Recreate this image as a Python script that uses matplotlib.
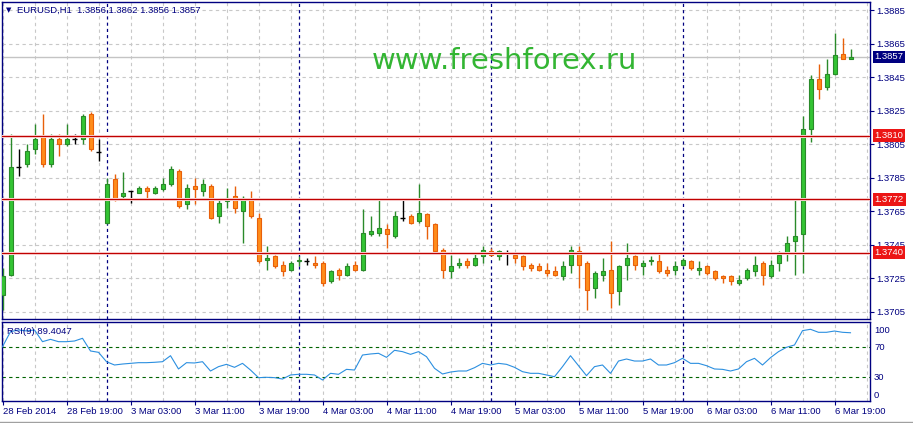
import matplotlib
matplotlib.use('Agg')
import matplotlib.pyplot as plt
from matplotlib.patches import Rectangle
from matplotlib.lines import Line2D

plt.rcParams['font.family'] = ['Liberation Sans', 'DejaVu Sans']

# ---------------- data ----------------
opens = [1.3715, 1.3727, 1.3791, 1.3793, 1.3802, 1.3810, 1.3793, 1.3808, 1.3805, 1.3808,
         1.3808, 1.3823, 1.3800, 1.3758, 1.3784, 1.3774, 1.3777, 1.3776, 1.3779, 1.3776,
         1.3778, 1.3781, 1.3789, 1.3769, 1.3780, 1.3777, 1.3780, 1.3762, 1.3771, 1.3774,
         1.3765, 1.3772, 1.3761, 1.3736, 1.3738, 1.3733, 1.3730, 1.3735, 1.3735, 1.3734,
         1.3734, 1.3723, 1.3730, 1.3727, 1.3733, 1.3730, 1.3751, 1.3752, 1.3754, 1.3750,
         1.3761, 1.3762, 1.3759, 1.3763, 1.3757, 1.3742, 1.3729, 1.3733, 1.3735, 1.3733,
         1.3738, 1.3741, 1.3738, 1.3740, 1.3739, 1.3738, 1.3733, 1.3732, 1.3730, 1.3729,
         1.3726, 1.3733, 1.3741, 1.3734, 1.3719, 1.3727, 1.3730, 1.3717, 1.3733, 1.3738,
         1.3732, 1.3735, 1.3735, 1.3730, 1.3730, 1.3733, 1.3735, 1.3730, 1.3732, 1.3729,
         1.3726, 1.3726, 1.3722, 1.3725, 1.3729, 1.3734, 1.3726, 1.3734, 1.3740, 1.3747,
         1.3751, 1.3814, 1.3844, 1.3839, 1.3847, 1.3859, 1.3856]
highs = [1.3731, 1.3811, 1.3802, 1.3805, 1.3817, 1.3823, 1.3811, 1.3811, 1.3817, 1.3811,
         1.3823, 1.3824, 1.3808, 1.3785, 1.3787, 1.3788, 1.3777, 1.3780, 1.3780, 1.3780,
         1.3785, 1.3792, 1.3790, 1.3781, 1.3785, 1.3784, 1.3781, 1.3772, 1.3779, 1.3780,
         1.3774, 1.3777, 1.3764, 1.3744, 1.3739, 1.3735, 1.3735, 1.3738, 1.3737, 1.3738,
         1.3735, 1.3730, 1.3731, 1.3734, 1.3735, 1.3766, 1.3762, 1.3773, 1.3757, 1.3765,
         1.3772, 1.3763, 1.3781, 1.3764, 1.3758, 1.3743, 1.3739, 1.3737, 1.3737, 1.3740,
         1.3744, 1.3743, 1.3742, 1.3742, 1.3740, 1.3739, 1.3734, 1.3734, 1.3734, 1.3732,
         1.3735, 1.3744, 1.3744, 1.3735, 1.3729, 1.3737, 1.3747, 1.3733, 1.3746, 1.3739,
         1.3736, 1.3738, 1.3740, 1.3732, 1.3735, 1.3737, 1.3736, 1.3735, 1.3733, 1.3730,
         1.3727, 1.3727, 1.3727, 1.3731, 1.3738, 1.3735, 1.3736, 1.3741, 1.3750, 1.3773,
         1.3822, 1.3846, 1.3853, 1.3856, 1.3871, 1.3868, 1.3862]
lows = [1.3706, 1.3726, 1.3786, 1.3791, 1.3799, 1.3791, 1.3791, 1.3798, 1.3804, 1.3805,
        1.3805, 1.3801, 1.3795, 1.3757, 1.3771, 1.3772, 1.3770, 1.3776, 1.3772, 1.3775,
        1.3777, 1.3780, 1.3767, 1.3766, 1.3769, 1.3774, 1.3760, 1.3758, 1.3767, 1.3764,
        1.3746, 1.3761, 1.3734, 1.3730, 1.3731, 1.3726, 1.3729, 1.3732, 1.3733, 1.3731,
        1.3720, 1.3722, 1.3724, 1.3726, 1.3729, 1.3729, 1.3750, 1.3750, 1.3743, 1.3749,
        1.3759, 1.3757, 1.3758, 1.3748, 1.3740, 1.3725, 1.3725, 1.3731, 1.3731, 1.3732,
        1.3734, 1.3738, 1.3736, 1.3733, 1.3734, 1.3730, 1.3729, 1.3729, 1.3726, 1.3726,
        1.3724, 1.3728, 1.3719, 1.3706, 1.3713, 1.3723, 1.3707, 1.3709, 1.3724, 1.3730,
        1.3727, 1.3733, 1.3728, 1.3726, 1.3727, 1.3732, 1.3730, 1.3727, 1.3727, 1.3724,
        1.3722, 1.3721, 1.3721, 1.3724, 1.3726, 1.3721, 1.3725, 1.3729, 1.3735, 1.3727,
        1.3728, 1.3806, 1.3832, 1.3837, 1.3846, 1.3856, 1.3856]
closes = [1.3726, 1.3791, 1.3791, 1.3801, 1.3808, 1.3793, 1.3808, 1.3805, 1.3808, 1.3808,
          1.3822, 1.3802, 1.3800, 1.3781, 1.3772, 1.3776, 1.3777, 1.3779, 1.3777, 1.3779,
          1.3781, 1.3790, 1.3768, 1.3779, 1.3778, 1.3781, 1.3761, 1.3770, 1.3773, 1.3767,
          1.3773, 1.3762, 1.3735, 1.3737, 1.3732, 1.3729, 1.3734, 1.3736, 1.3735, 1.3733,
          1.3722, 1.3729, 1.3727, 1.3732, 1.3730, 1.3752, 1.3753, 1.3755, 1.3751, 1.3762,
          1.3761, 1.3758, 1.3764, 1.3756, 1.3741, 1.3730, 1.3732, 1.3734, 1.3733, 1.3737,
          1.3742, 1.3739, 1.3741, 1.3740, 1.3737, 1.3732, 1.3731, 1.3730, 1.3728, 1.3727,
          1.3732, 1.3742, 1.3733, 1.3718, 1.3728, 1.3729, 1.3716, 1.3732, 1.3737, 1.3733,
          1.3734, 1.3736, 1.3729, 1.3728, 1.3732, 1.3736, 1.3731, 1.3731, 1.3728, 1.3725,
          1.3725, 1.3723, 1.3724, 1.3730, 1.3733, 1.3727, 1.3733, 1.3739, 1.3746, 1.3750,
          1.3814, 1.3844, 1.3838, 1.3847, 1.3858, 1.3856, 1.3857]
rsi = [70.8, 90.8, 93.1, 91.8, 93.1, 77.5, 80.6, 77.5, 77.5, 78.4,
       82.0, 65.1, 63.3, 50.8, 46.4, 47.7, 48.6, 49.5, 49.5, 50.0,
       50.8, 58.8, 41.1, 49.5, 49.1, 50.8, 38.4, 44.2, 47.3, 43.3,
       48.6, 39.7, 29.5, 30.0, 29.5, 27.7, 33.1, 34.0, 34.0, 33.1,
       26.4, 35.3, 34.0, 40.6, 39.7, 59.7, 61.1, 62.0, 56.6, 66.0,
       64.2, 60.6, 64.2, 57.5, 42.0, 34.4, 37.0, 38.4, 38.4, 42.8,
       48.6, 46.4, 48.6, 47.3, 43.3, 37.5, 35.3, 35.3, 33.1, 30.8,
       44.2, 58.8, 45.5, 32.2, 44.2, 46.4, 35.3, 51.7, 54.4, 51.7,
       51.7, 54.4, 46.4, 46.4, 49.5, 55.3, 48.6, 48.6, 45.5, 41.1,
       40.6, 38.4, 41.1, 50.8, 55.3, 46.4, 56.2, 64.2, 70.0, 73.1,
       92.2, 94.0, 90.0, 90.0, 91.7, 90.0, 89.4]

price_ticks = [1.3885, 1.3865, 1.3845, 1.3825, 1.3805, 1.3785, 1.3765, 1.3745, 1.3725, 1.3705]
price_tick_labels = ['1.3885', '1.3865', '1.3845', '1.3825', '1.3805', '1.3785', '1.3765',
                     '1.3745', '1.3725', '1.3705']
levels = [1.3810, 1.3772, 1.3740]
level_labels = ['1.3810', '1.3772', '1.3740']
bid = 1.3857
bid_label = '1.3857'
rsi_levels = [70, 30]
rsi_tick_labels = ['100', '70', '30', '0']
time_tick_bars = [0, 8, 16, 24, 32, 40, 48, 56, 64, 72, 80, 88, 96, 104]
time_labels = ['28 Feb 2014', '28 Feb 19:00', '3 Mar 03:00', '3 Mar 11:00', '3 Mar 19:00',
               '4 Mar 03:00', '4 Mar 11:00', '4 Mar 19:00', '5 Mar 03:00', '5 Mar 11:00',
               '5 Mar 19:00', '6 Mar 03:00', '6 Mar 11:00', '6 Mar 19:00']
day_separators = [13, 37, 61, 85]
title = 'EURUSD,H1  1.3856 1.3862 1.3856 1.3857'
rsi_title = 'RSI(9) 89.4047'
watermark = 'www.freshforex.ru'

# ---------------- layout ----------------
W, H, DPI = 913, 423, 100
NAVY = '#000080'
GRID = '#c8c8c8'
G_FILL, G_EDGE = '#33c433', '#2a8a2a'
O_FILL, O_EDGE = '#ff8c1a', '#e8600a'

def fx(px):
    return px / W

def fy(py):
    return 1 - py / H

L_PX, R_PX = 1.5, 870.0
MAIN_TOP, MAIN_BOT = 1.5, 319.0
RSI_TOP, RSI_BOT = 322.0, 401.0

def bar_of(px):
    return (px - 2.5) / 8.0

def price_of(py):
    return 1.3885 - (py - 10.0) / 16750.0

def rsi_of(py):
    return (399.8 - py) / 0.75

fig = plt.figure(figsize=(W / DPI, H / DPI), dpi=DPI, facecolor='white')
ax = fig.add_axes([fx(L_PX), fy(MAIN_BOT), (R_PX - L_PX) / W, (MAIN_BOT - MAIN_TOP) / H])
ax2 = fig.add_axes([fx(L_PX), fy(RSI_BOT), (R_PX - L_PX) / W, (RSI_BOT - RSI_TOP) / H])

xlim = (bar_of(L_PX), bar_of(R_PX))
for a in (ax, ax2):
    a.set_xlim(*xlim)
    a.set_facecolor('white')
    for s in a.spines.values():
        s.set_color(NAVY)
        s.set_linewidth(1.0)
ax.set_ylim(price_of(MAIN_BOT), price_of(MAIN_TOP))
ax2.set_ylim(rsi_of(RSI_BOT), rsi_of(RSI_TOP))

# grid
grid_bars = list(range(0, 109, 4))
for a in (ax, ax2):
    for g in grid_bars:
        a.axvline(g, color=GRID, ls=(0, (3, 3)), lw=0.8, zorder=1)
    for s in day_separators:
        a.axvline(s, color=NAVY, ls=(0, (2.5, 2.5)), lw=0.9, zorder=2)
for p in price_ticks:
    ax.axhline(p, color=GRID, ls=(0, (3, 3)), lw=0.8, zorder=1)

# bid line
ax.axhline(bid, color='#c4c4c4', lw=1.0, zorder=1.5)

# candles
bw = 0.5
for i in range(len(opens)):
    o, h, l, c = opens[i], highs[i], lows[i], closes[i]
    if c > o:
        fc, ec = G_FILL, G_EDGE
    elif c < o:
        fc, ec = O_FILL, O_EDGE
    else:
        fc, ec = 'black', 'black'
    ax.vlines(i, l, h, color=ec, lw=1.0, zorder=3)
    if c == o:
        ax.hlines(o, i - bw / 2 - 0.05, i + bw / 2 + 0.05, color='black', lw=1.0, zorder=4)
    else:
        ax.add_patch(Rectangle((i - bw / 2, min(o, c)), bw, abs(c - o),
                               facecolor=fc, edgecolor=ec, lw=0.8, zorder=4))

# horizontal levels
for lv in levels:
    ax.axhline(lv, color='#fde2e2', lw=2.2, zorder=5)
    ax.axhline(lv, color='#c00000', lw=0.9, zorder=5.1)

# ticks main
ax.set_xticks([])
ax.yaxis.tick_right()
ax.set_yticks(price_ticks)
ax.set_yticklabels(price_tick_labels)
ax.tick_params(axis='y', direction='out', length=3, width=0.8, color=NAVY,
               labelcolor=NAVY, labelsize=6.8, pad=1.5)

# RSI
xs = list(range(len(rsi)))
ax2.plot(xs, rsi, color='#2b8fe0', lw=0.8, zorder=3)
for lv in rsi_levels:
    ax2.axhline(lv, color='#006400', ls=(0, (3, 3)), lw=0.8, zorder=2)
ax2.set_yticks([])
ax2.set_xticks(time_tick_bars)
ax2.set_xticklabels(time_labels)
for lbl in ax2.get_xticklabels():
    lbl.set_horizontalalignment('left')
ax2.tick_params(axis='x', direction='out', length=3, width=0.8, color=NAVY,
                labelcolor=NAVY, labelsize=6.8, pad=1.0)

# RSI right labels
for txt, py in zip(rsi_tick_labels, [330, 347, 377, 395]):
    fig.text(fx(874), fy(py), txt, color=NAVY, fontsize=6.8, ha='left', va='center')

# level labels (boxes)
for lv, txt in zip(levels, level_labels):
    py = 10 + (1.3885 - lv) * 16750
    fig.text(fx(874.5), fy(py), txt, color='white', fontsize=6.8, ha='left', va='center',
             bbox=dict(boxstyle='square,pad=0.2', fc='#ec1515', ec='none'), zorder=10)
py = 10 + (1.3885 - bid) * 16750
fig.text(fx(874.5), fy(py), bid_label, color='white', fontsize=6.8, ha='left', va='center',
         bbox=dict(boxstyle='square,pad=0.2', fc=NAVY, ec='none'), zorder=10)

# titles
fig.text(fx(6), fy(10), '\u25bc', color=NAVY, fontsize=5, ha='left', va='center',
         family='DejaVu Sans')
fig.text(fx(17), fy(10), title, color=NAVY, fontsize=6.8, ha='left', va='center')
fig.text(fx(7), fy(331), rsi_title, color=NAVY, fontsize=6.8, ha='left', va='center')

# watermark
fig.text(fx(504), fy(69), watermark, color='#33b533', fontsize=21, ha='center',
         va='baseline', family='DejaVu Sans')

# bottom tab bar line
fig.add_artist(Line2D([0, 1], [fy(421.5), fy(421.5)], color='#a0a0a0', lw=1.0))

fig.savefig('out.png', dpi=DPI, facecolor='white')
